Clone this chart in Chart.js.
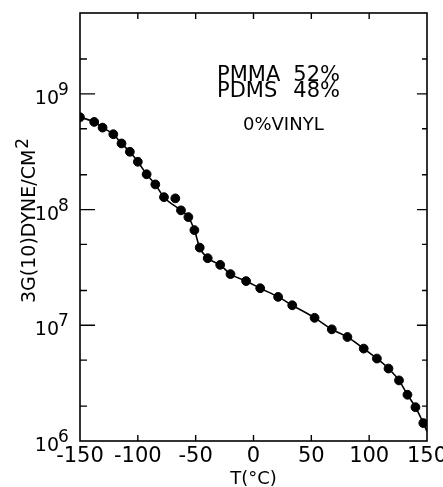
<!DOCTYPE html>
<html>
<head>
<meta charset="utf-8">
<script src="https://cdn.jsdelivr.net/npm/chart.js@4.4.1/dist/chart.umd.min.js"></script>
<style>
  html, body { margin: 0; padding: 0; background: #fff; }
  canvas { display: block; }
</style>
</head>
<body>
<canvas id="chart" width="443" height="487"></canvas>
<script>
// measured points, T in degC, 3G(10) in dyne/cm2
const tempC = [-150, -137.7, -130.5, -121.2, -114.1, -106.9, -100, -92.4, -84.9, -77.4,
  -67.6, -62.7, -56.3, -51.1, -46.5, -39.6, -28.8, -19.9, -6.4, 5.8,
  21.3, 33.5, 52.8, 67.7, 81.2, 95.3, 106.7, 116.7, 125.8, 133.1, 140.0, 146.8];
const modulus = [6.28e8, 5.72e8, 5.11e8, 4.48e8, 3.73e8, 3.16e8, 2.59e8, 2.02e8, 1.65e8, 1.28e8,
  1.25e8, 9.85e7, 8.61e7, 6.65e7, 4.69e7, 3.80e7, 3.33e7, 2.77e7, 2.41e7, 2.09e7,
  1.76e7, 1.49e7, 1.16e7, 9.23e6, 7.92e6, 6.29e6, 5.16e6, 4.23e6, 3.34e6, 2.51e6, 1.96e6, 1.43e6];

// the drawn curve skips this point and runs on to the right axis
const offCurve = [10];
const curveEndT = 150;
const curveEndG = 1.21e6;

const yTicks = [1e6, 2e6, 5e6, 1e7, 2e7, 5e7, 1e8, 2e8, 5e8, 1e9, 2e9, 5e9];
const yDecades = [6, 7, 8, 9];
const xTicks = [-150, -100, -50, 0, 50, 100, 150];

const pts = tempC.map((t, i) => ({ x: t, y: modulus[i] }));
const curve = pts.filter((p, i) => !offCurve.includes(i));
curve.push({ x: curveEndT, y: curveEndG });

const FONT = "'DejaVu Sans', sans-serif";

// frame, inward ticks and the text that Chart.js can't set (superscripts)
const decor = {
  id: "decor",
  afterDraw(chart) {
    const ctx = chart.ctx;
    const a = chart.chartArea;
    const x = chart.scales.x;
    const y = chart.scales.y;
    ctx.save();
    ctx.strokeStyle = "#000";
    ctx.lineWidth = 1.6;
    ctx.strokeRect(a.left, a.top, a.right - a.left, a.bottom - a.top);

    ctx.lineWidth = 1.4;
    ctx.beginPath();
    y.ticks.forEach(t => {
      const py = y.getPixelForValue(t.value);
      if (py <= a.top + 1 || py >= a.bottom - 1) return;
      const major = Math.abs(Math.log10(t.value) - Math.round(Math.log10(t.value))) < 1e-6;
      ctx.moveTo(a.left, py);
      ctx.lineTo(a.left + (major ? 15 : 7), py);
      ctx.moveTo(a.right, py);
      ctx.lineTo(a.right - (major ? 10 : 5), py);
    });
    x.ticks.forEach(t => {
      const px = x.getPixelForValue(t.value);
      if (px <= a.left + 1 || px >= a.right - 1) return;
      ctx.moveTo(px, a.bottom);
      ctx.lineTo(px, a.bottom - 6);
      ctx.moveTo(px, a.top);
      ctx.lineTo(px, a.top + 6);
    });
    ctx.stroke();

    ctx.fillStyle = "#000";
    ctx.textBaseline = "alphabetic";
    yDecades.forEach(e => {
      const py = y.getPixelForValue(Math.pow(10, e));
      ctx.font = "19px " + FONT;
      ctx.textAlign = "right";
      ctx.fillText("10", 59, py + 10);
      ctx.font = "17px " + FONT;
      ctx.textAlign = "left";
      ctx.fillText(String(e), 58, py + 1);
    });

    // y title, rotated
    ctx.save();
    ctx.translate(35, 303);
    ctx.rotate(-Math.PI / 2);
    ctx.font = "19px " + FONT;
    ctx.textAlign = "left";
    const main = "3G(10)DYNE/CM";
    ctx.fillText(main, 0, 0);
    const w = ctx.measureText(main).width;
    ctx.font = "17px " + FONT;
    ctx.fillText("2", w + 1, -7);
    ctx.restore();

    ctx.font = "18px " + FONT;
    ctx.textAlign = "center";
    ctx.fillText("T(°C)", x.getPixelForValue(0), 484);

    ctx.font = "21px " + FONT;
    ctx.textAlign = "left";
    ctx.fillText("PMMA", 217, 81);
    ctx.fillText("PDMS", 217, 97);
    ctx.textAlign = "right";
    ctx.fillText("52%", 340, 81);
    ctx.fillText("48%", 340, 97);
    ctx.font = "18px " + FONT;
    ctx.textAlign = "left";
    ctx.fillText("0%VINYL", 243, 130);
    ctx.restore();
  }
};

new Chart(document.getElementById("chart"), {
  type: "scatter",
  data: {
    datasets: [
      {
        type: "line",
        data: curve,
        borderColor: "#000",
        borderWidth: 1.6,
        pointRadius: 0,
        cubicInterpolationMode: "monotone",
        fill: false
      },
      {
        data: pts,
        backgroundColor: "#000",
        borderColor: "#000",
        pointRadius: 4.4,
        pointHoverRadius: 4.4
      }
    ]
  },
  options: {
    responsive: false,
    animation: false,
    layout: { padding: { top: 13, right: 16, left: 0, bottom: 0 } },
    plugins: { legend: { display: false }, tooltip: { enabled: false } },
    scales: {
      x: {
        type: "linear",
        min: -150,
        max: 150,
        afterBuildTicks: s => { s.ticks = xTicks.map(v => ({ value: v })); },
        afterFit: s => {
          s.height = 46;
          s.paddingLeft = 0;
          s.paddingRight = 0;
        },
        grid: { display: false, drawTicks: false },
        border: { display: false },
        ticks: {
          padding: 3,
          color: "#000",
          font: { family: FONT, size: 21 },
          maxRotation: 0,
          autoSkip: false
        }
      },
      y: {
        type: "logarithmic",
        min: 1e6,
        max: 5e9,
        afterBuildTicks: s => { s.ticks = yTicks.map(v => ({ value: v })); },
        afterFit: s => {
          s.width = 80;
          s.paddingTop = 0;
          s.paddingBottom = 0;
        },
        grid: { display: false, drawTicks: false },
        border: { display: false },
        ticks: { display: false }
      }
    }
  },
  plugins: [decor]
});
</script>
</body>
</html>
